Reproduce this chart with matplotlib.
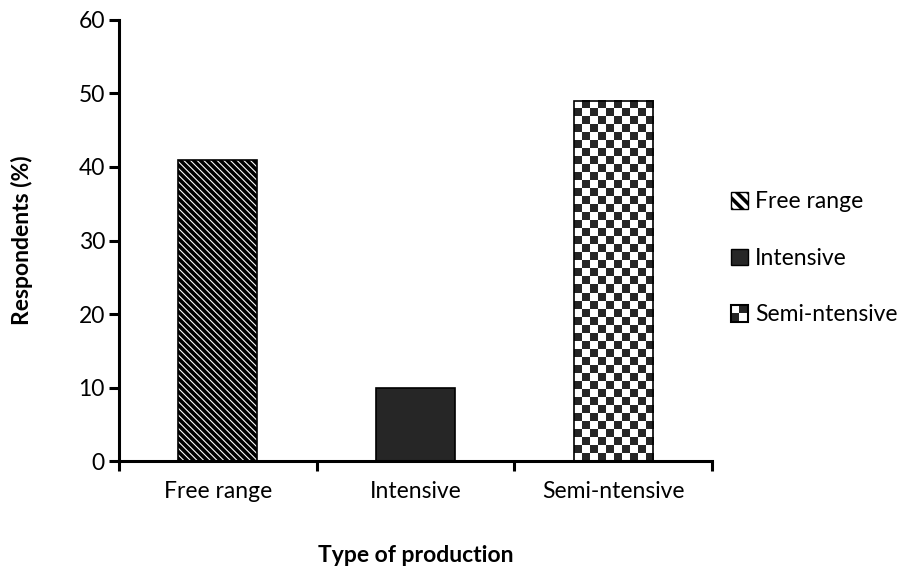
import matplotlib
matplotlib.use("Agg")
import matplotlib.pyplot as plt
import numpy as np
from matplotlib.patches import Patch, Rectangle
from matplotlib.legend_handler import HandlerBase
from matplotlib.colors import ListedColormap

categories = ["Free range", "Intensive", "Semi-ntensive"]
values = [41, 10, 49]
yticks = [0, 10, 20, 30, 40, 50, 60]

plt.rcParams["font.family"] = ["Lato", "DejaVu Sans"]
plt.rcParams["hatch.linewidth"] = 2.6

dark = "#262626"


class CheckerHandler(HandlerBase):
    # small 2x2 checker square for the legend
    def create_artists(self, legend, orig_handle, xdescent, ydescent,
                       width, height, fontsize, trans):
        x0, y0 = -xdescent, -ydescent
        w2, h2 = width / 2, height / 2
        arts = [Rectangle((x0, y0), width, height, facecolor="white",
                          edgecolor="none", transform=trans),
                Rectangle((x0 + w2, y0 + h2), w2, h2, facecolor=dark,
                          edgecolor="none", transform=trans),
                Rectangle((x0, y0), w2, h2, facecolor=dark,
                          edgecolor="none", transform=trans),
                Rectangle((x0, y0), width, height, facecolor="none",
                          edgecolor="black", linewidth=1.5, transform=trans)]
        return arts


fig = plt.figure(figsize=(9.07, 5.68), dpi=100)
ax = fig.add_axes([0.131, 0.188, 0.654, 0.777])

x = np.arange(len(categories))
bars = ax.bar(x, values, width=0.4, color=["white", dark, "white"],
              edgecolor="black", linewidth=1.2, zorder=2)
bars[0].set_hatch("\\\\\\\\\\")

# checkerboard texture for the third bar, clipped to the bar
b = bars[2]
x0, w, h = b.get_x(), b.get_width(), b.get_height()
nx = 10
ny = int(round(h / 60 * 441 / 8))
checker = (np.indices((ny, nx)).sum(axis=0) % 2)
ax.imshow(checker, cmap=ListedColormap(["white", dark]),
          extent=[x0, x0 + w, 0, h], origin="upper", interpolation="nearest",
          aspect="auto", zorder=1.5, clip_path=b, clip_on=True)
b.set_facecolor("none")

ax.set_xlim(-0.5, 2.5)
ax.set_ylim(0, 60)
ax.set_yticks(yticks)
ax.set_xticks(np.arange(-0.5, 3, 1))
ax.set_xticklabels([])
ax.set_xticks(x, minor=True)
ax.set_xticklabels(categories, minor=True)
ax.tick_params(axis="x", which="minor", length=0, pad=14, labelsize=16.5)
ax.tick_params(axis="x", which="major", length=7, width=2.2, direction="out")
ax.tick_params(axis="y", length=7, width=2.2, direction="out", labelsize=16.5, pad=3)

for s in ["top", "right"]:
    ax.spines[s].set_visible(False)
for s in ["left", "bottom"]:
    ax.spines[s].set_linewidth(2.2)

ax.set_ylabel("Respondents (%)", fontsize=16.5, fontweight="bold", labelpad=33)
ax.set_xlabel("Type of production", fontsize=16.5, fontweight="bold", labelpad=31)

checker_handle = Patch(facecolor="white", edgecolor="black")
handles = [Patch(facecolor="white", edgecolor="black", hatch="\\\\\\"),
           Patch(facecolor=dark, edgecolor="black"),
           checker_handle]
fig.legend(handles, categories, loc="center left", bbox_to_anchor=(0.783, 0.545),
           frameon=False, fontsize=16.5, handlelength=0.75, handleheight=0.75,
           handletextpad=0.3, labelspacing=1.55,
           handler_map={checker_handle: CheckerHandler()})

fig.savefig("out.png", dpi=100)
